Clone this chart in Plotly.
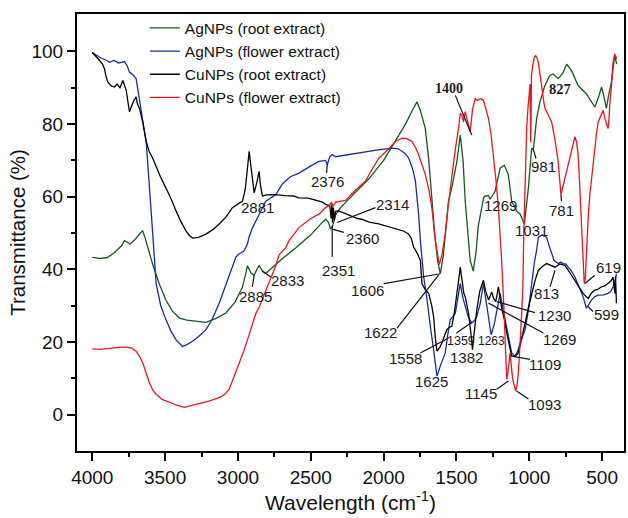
import plotly.graph_objects as go

# ---------------- data (wavenumber cm-1, transmittance %) ----------------
green_x = [4000,3950,3900,3850,3800,3779,3740,3700,3670,3654,3640,3620,3587,3540,3494,3450,3402,3350,3300,3220,3150,3083,3020,2970,2946,2935,2910,2889,2870,2855,2830,2809,2750,2700,2600,2500,2420,2398,2380,2364,2350,2330,2296,2200,2100,2000,1919,1850,1800,1771,1750,1714,1690,1669,1650,1630,1611,1590,1570,1555,1532,1497,1474,1455,1440,1420,1406,1385,1365,1350,1337,1314,1303,1280,1269,1235,1200,1171,1144,1121,1087,1063,1034,1006,984,972,950,927,893,859,836,802,770,744,710,665,608,550,520,504,490,471,455,437,414,400]
green_y = [43.3,43.0,43.2,44.5,46.5,47.9,47.0,48.5,50.0,50.6,49.0,46.0,41.6,36.0,31.5,28.5,26.6,26.0,25.8,25.4,26.5,28.0,31.0,35.0,38.9,41.0,39.0,38.4,40.0,41.0,39.5,38.9,41.0,42.8,46.0,49.5,53.0,53.8,53.0,51.1,52.0,55.0,57.0,61.0,65.0,70.0,75.2,80.0,84.0,86.1,84.0,78.8,70.0,58.8,50.0,42.5,38.8,44.0,52.0,58.8,62.5,69.7,77.0,70.0,58.8,48.0,42.5,39.5,45.0,52.0,55.2,59.7,60.2,60.3,59.3,61.5,67.9,68.6,66.1,58.8,56.1,55.2,52.5,62.5,73.4,72.9,81.5,86.1,90.6,93.4,93.8,92.5,94.0,96.5,94.7,90.6,88.3,84.7,88.0,90.2,88.0,84.3,88.0,91.5,98.8,96.5]

blue_x = [4000,3950,3900,3882,3850,3820,3779,3760,3745,3720,3699,3676,3650,3630,3610,3585,3562,3530,3494,3460,3425,3380,3350,3311,3270,3220,3180,3129,3090,3060,3038,3014,2992,2960,2935,2923,2900,2850,2809,2741,2695,2640,2581,2500,2444,2398,2387,2370,2353,2330,2285,2200,2125,2050,1942,1900,1874,1850,1828,1800,1782,1770,1760,1748,1737,1725,1708,1691,1675,1657,1645,1634,1610,1590,1577,1560,1543,1508,1490,1474,1455,1440,1420,1395,1375,1361,1337,1315,1300,1280,1262,1240,1223,1200,1185,1166,1140,1121,1098,1080,1063,1045,1029,1006,984,965,950,938,910,881,860,847,830,802,785,767,750,733,710,687,660,631,608,590,573,550,527,490,459,440,425,410,402]
blue_y = [99.7,98.4,97.5,97.0,97.5,96.8,97.2,96.0,94.3,93.5,92.5,86.1,80.0,75.2,65.0,49.7,36.1,30.0,26.1,23.0,20.6,18.8,19.3,20.2,21.5,23.4,26.0,30.7,35.0,38.5,40.6,43.4,44.3,45.0,47.0,49.0,51.5,55.5,58.8,60.5,63.5,65.5,66.5,68.5,69.7,70.0,68.8,71.0,71.6,71.0,71.3,72.0,72.5,72.8,73.4,73.2,72.5,71.8,70.6,67.5,64.3,60.0,55.2,48.0,42.5,37.9,33.5,28.8,23.0,17.9,13.5,10.6,13.5,15.5,17.0,22.0,26.1,27.9,32.0,36.1,32.0,29.7,27.0,25.2,26.0,27.0,30.6,36.1,32.0,27.0,22.0,25.0,28.8,33.4,30.0,26.1,21.0,17.0,16.1,17.5,19.7,21.5,23.4,28.8,36.1,42.0,45.2,48.8,49.5,48.8,46.0,44.3,42.5,41.6,42.0,41.6,41.5,40.6,39.5,37.9,35.5,32.5,29.3,30.5,31.6,32.5,32.9,33.0,33.4,34.0,35.2,37.0,38.8]

black_x = [4000,3970,3950,3930,3916,3905,3893,3870,3847,3830,3810,3790,3780,3767,3755,3745,3730,3715,3699,3690,3676,3665,3654,3630,3610,3585,3560,3539,3520,3494,3460,3425,3390,3357,3330,3311,3270,3220,3170,3129,3080,3038,2990,2969,2950,2935,2923,2910,2895,2889,2870,2855,2845,2832,2800,2741,2680,2620,2581,2520,2480,2444,2420,2398,2370,2360,2355,2351,2345,2338,2330,2307,2270,2230,2180,2150,2100,2034,1990,1950,1897,1860,1828,1810,1794,1770,1748,1737,1715,1691,1670,1657,1645,1634,1615,1600,1580,1566,1550,1532,1515,1500,1485,1474,1460,1450,1440,1430,1417,1400,1390,1380,1370,1361,1340,1315,1300,1280,1270,1258,1245,1230,1212,1200,1190,1170,1155,1121,1100,1075,1050,1029,1006,984,960,938,910,881,850,824,790,756,720,687,660,631,610,595,573,550,530,504,480,459,440,425,418,413,408,402]
black_y = [99.7,98.5,97.5,96.5,95.2,93.0,91.5,90.5,90.2,91.0,90.0,92.0,90.5,89.3,86.0,83.4,85.0,86.5,87.5,85.5,84.3,82.5,80.6,75.2,72.5,70.6,68.0,66.1,64.5,62.5,59.5,56.1,53.0,50.6,49.2,48.6,48.8,49.7,51.0,52.5,54.5,57.0,58.3,58.8,62.0,68.0,72.5,68.0,61.5,61.1,64.0,67.0,63.0,60.2,60.5,60.6,60.3,60.2,59.7,59.6,59.2,58.8,58.5,57.9,57.5,54.0,58.0,52.9,57.0,53.5,56.0,56.1,55.5,55.0,54.0,53.8,53.0,52.5,52.0,51.6,51.1,50.5,49.7,48.5,46.1,44.5,42.5,36.1,34.5,33.4,30.0,27.0,21.0,17.5,18.5,19.7,22.0,23.4,24.0,24.3,28.0,32.0,37.0,40.6,36.0,33.5,32.5,30.0,27.9,22.0,17.9,22.0,26.0,28.8,34.0,37.0,34.0,31.6,32.5,33.8,32.0,31.1,35.2,32.0,29.3,26.0,22.5,16.1,16.0,17.0,21.0,25.2,29.5,33.4,37.0,39.7,40.8,41.6,41.0,40.6,41.5,41.1,39.0,37.0,35.0,33.4,32.5,32.0,33.5,34.3,34.5,35.2,35.5,36.1,36.8,37.9,36.0,33.4,38.0,30.7]

red_x = [4000,3950,3900,3859,3800,3767,3730,3699,3675,3654,3630,3608,3585,3562,3520,3471,3420,3368,3320,3266,3200,3129,3090,3060,3030,2992,2960,2935,2900,2877,2855,2809,2741,2718,2672,2649,2581,2500,2444,2398,2375,2360,2345,2330,2285,2261,2200,2125,2080,2033,1970,1919,1874,1840,1806,1780,1760,1740,1714,1690,1669,1645,1630,1618,1600,1577,1555,1532,1510,1486,1474,1463,1452,1440,1420,1406,1390,1371,1355,1337,1315,1300,1280,1262,1246,1230,1212,1200,1190,1175,1160,1155,1145,1132,1115,1094,1085,1075,1060,1045,1038,1030,1018,1010,1002,995,990,985,975,965,956,945,938,925,915,900,892,870,847,825,802,790,783,765,744,720,700,687,675,665,655,642,635,628,623,615,605,595,584,560,540,527,510,493,481,468,459,452,448,435,425,413,405,400]
red_y = [18.1,18.0,18.2,18.4,18.6,18.6,18.3,17.5,16.0,14.3,11.5,8.8,6.8,5.6,4.2,3.4,2.6,2.0,2.5,2.9,3.7,4.7,5.6,7.0,10.0,14.3,17.5,20.6,25.0,27.9,29.5,34.3,41.0,44.0,46.0,47.9,51.5,54.0,55.2,57.0,57.5,58.4,57.5,58.5,58.8,59.0,61.5,64.3,67.5,70.6,73.0,75.2,76.1,76.0,75.2,73.5,71.6,69.0,66.1,62.0,57.0,47.9,43.5,41.3,44.0,49.7,58.0,66.1,72.5,78.8,82.9,82.5,80.6,83.4,80.0,77.9,84.0,87.0,86.5,87.0,86.6,84.5,81.5,77.0,71.6,65.0,57.0,50.0,42.5,30.0,14.0,9.7,12.0,17.0,10.0,6.5,8.0,11.6,22.0,34.0,50.0,62.0,78.8,84.0,87.9,91.0,75.0,93.4,96.5,98.5,98.8,98.0,97.0,93.0,89.7,86.0,84.3,82.5,80.6,76.0,69.7,64.0,60.6,63.5,67.0,71.0,74.5,76.5,75.0,71.6,64.0,53.4,45.0,38.0,36.1,38.0,48.0,55.0,60.6,70.0,77.0,80.6,82.5,83.8,81.5,79.5,78.8,82.0,85.2,91.0,97.0,99.3,98.0,97.9]

series_names = ["AgNPs (root extract)", "AgNPs (flower extract)", "CuNPs (root extract)", "CuNPs (flower extract)"]

x_ticks = [4000, 3500, 3000, 2500, 2000, 1500, 1000, 500]
y_ticks = [0, 20, 40, 60, 80, 100]

# peak labels: (text, x, y, font size, bold serif)
labels = [
    ("1400", 1554, 89.9, 14, True), ("827", 790, 89.6, 14.5, True),
    ("2881", 2866, 57.0, 15, False), ("2376", 2387, 64.3, 15, False),
    ("2314", 1942, 57.9, 15, False), ("2360", 2148, 48.4, 15, False),
    ("2351", 2307, 39.7, 15, False), ("2885", 2877, 32.5, 15, False),
    ("2833", 2661, 37.0, 15, False), ("1606", 2114, 34.1, 15, False),
    ("1622", 2022, 22.6, 15, False), ("1558", 1851, 15.4, 15, False),
    ("1625", 1669, 9.0, 15, False), ("1359", 1470, 20.2, 12.5, False),
    ("1382", 1429, 15.7, 15, False), ("1263", 1258, 20.2, 12, False),
    ("1230", 824, 27.3, 15, False), ("1269", 790, 20.6, 15, False),
    ("1109", 892, 13.8, 15, False), ("1145", 1330, 5.9, 15, False),
    ("1093", 897, 2.9, 15, False), ("813", 881, 33.4, 15, False),
    ("599", 471, 27.5, 15, False), ("619", 459, 40.6, 15, False),
    ("1269", 1200, 57.7, 15, False), ("1031", 984, 50.8, 15, False),
    ("981", 904, 68.4, 15, False), ("781", 779, 56.3, 15, False),
]

# leader lines: (x0, y0, x1, y1) in data units
leaders = [
    (1508, 87.9, 1395, 77.0), (2387, 68.9, 2392, 66.5),
    (2056, 57.0, 2319, 52.9), (2273, 50.2, 2353, 51.1),
    (2353, 52.0, 2353, 43.4), (2889, 38.4, 2901, 35.2),
    (2832, 39.5, 2775, 37.9), (2000, 36.1, 1611, 38.8),
    (1908, 23.8, 1623, 38.4), (1748, 17.0, 1554, 21.1),
    (1500, 22.5, 1392, 25.5),
    (961, 28.1, 1224, 31.1), (904, 22.5, 1280, 30.7),
    (995, 15.2, 1121, 16.1), (1224, 7.0, 1144, 9.3),
    (1006, 4.3, 1087, 6.5), (858, 35.2, 824, 39.7),
    (562, 28.4, 596, 29.7), (550, 38.4, 619, 36.1),
    (972, 72.9, 954, 70.6), (783, 60.6, 779, 58.8),
]

colors = ["#145a1e", "#1a2b9c", "#000000", "#e8161c"]

fig = go.Figure()
for name, xs, ys, c in zip(series_names,
                           [green_x, blue_x, black_x, red_x],
                           [green_y, blue_y, black_y, red_y], colors):
    fig.add_trace(go.Scatter(x=xs, y=ys, mode="lines", name=name,
                             line=dict(color=c, width=1.3)))

for t, x, y, s, bold in labels:
    fig.add_annotation(x=x, y=y, xref="x", yref="y", text=f"<b>{t}</b>" if bold else t,
                       showarrow=False,
                       font=dict(family="Liberation Serif" if bold else "Liberation Sans, Arial",
                                 size=s, color="#1a1a1a"))

for x0, y0, x1, y1 in leaders:
    fig.add_shape(type="line", x0=x0, y0=y0, x1=x1, y1=y1, xref="x", yref="y",
                  line=dict(color="#111111", width=1.2))

fig.update_layout(
    width=628, height=518,
    margin=dict(l=77, r=2, t=14, b=67),
    paper_bgcolor="white", plot_bgcolor="white",
    font=dict(family="Liberation Sans, Arial", color="#111111"),
    showlegend=True,
    legend=dict(x=0.124, y=1.006, xanchor="left", yanchor="top",
                bgcolor="rgba(0,0,0,0)", font=dict(size=15.5, color="#111111"),
                tracegroupgap=0),
)
fig.update_xaxes(range=[4105, 350], tickmode="array", tickvals=x_ticks,
                 ticktext=[str(v) for v in x_ticks],
                 showline=True, linecolor="black", linewidth=2, mirror=True,
                 ticks="outside", ticklen=8, tickwidth=2, tickcolor="black",
                 minor=dict(ticks="outside", ticklen=4, tickwidth=2, tickcolor="black",
                            tickmode="array", tickvals=[3750, 3250, 2750, 2250, 1750, 1250, 750]),
                 showgrid=False, zeroline=False,
                 tickfont=dict(size=19, color="#111111"),
                 title=dict(text="Wavelength (cm<sup>-1</sup>)", font=dict(size=21), standoff=8))
fig.update_yaxes(range=[-10, 110.3], tickmode="array", tickvals=y_ticks,
                 ticktext=[str(v) for v in y_ticks],
                 showline=True, linecolor="black", linewidth=2, mirror=True,
                 ticks="outside", ticklen=8, tickwidth=2, tickcolor="black",
                 minor=dict(ticks="outside", ticklen=4, tickwidth=2, tickcolor="black",
                            tickmode="array", tickvals=[10, 30, 50, 70, 90]),
                 showgrid=False, zeroline=False,
                 tickfont=dict(size=19, color="#111111"),
                 title=dict(text="Transmittance (%)", font=dict(size=20.5), standoff=0))

fig.write_html("out.html", post_script="document.body.style.margin='0';",
               config={"displayModeBar": False})
